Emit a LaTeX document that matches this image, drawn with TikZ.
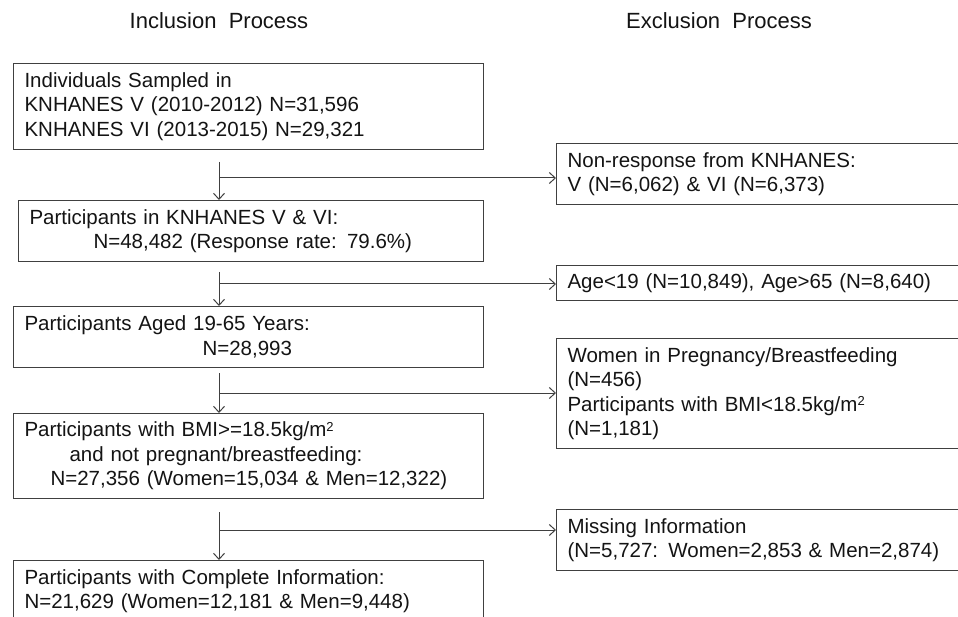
\documentclass[tikz,border=0pt]{standalone}
\usepackage{fontspec}
\setmainfont{Liberation Sans}
\usetikzlibrary{arrows.meta}
\definecolor{linec}{gray}{0.25}
\definecolor{textc}{gray}{0.08}
\newcommand{\boxfnt}{\fontsize{20.5}{24.5}\selectfont}
\newcommand{\titlefnt}{\fontsize{22}{26}\selectfont}
\newcommand{\sqtwo}{\raisebox{5.5pt}{\fontsize{13}{13}\selectfont 2}}
\tikzset{
  box/.style={draw=linec, line width=1.1pt, rectangle, anchor=north west, align=left,
    inner xsep=11pt, inner ysep=4pt, font=\boxfnt, text=textc},
  arr/.style={draw=linec, line width=1pt, -{Straight Barb[length=6pt,width=11pt]}},
  ln/.style={draw=linec, line width=1pt},
  ttl/.style={font=\titlefnt, text=textc, anchor=base}
}
\begin{document}
\begin{tikzpicture}[x=1pt,y=-1pt]
\clip (0,0) rectangle (958,617);
\fill[white] (0,0) rectangle (958,617);

% titles
\node[ttl] (t1) at (219,29) {Inclusion\ \ Process};
\node[ttl] (t2) at (719,29) {Exclusion\ \ Process};

% inclusion boxes
\node[box, text width=448pt, minimum width=470pt, minimum height=86pt] (b1) at (13,63)
  {Individuals Sampled in\\KNHANES V (2010-2012) N=31,596\\KNHANES VI (2013-2015) N=29,321};
\node[box, text width=443pt, minimum width=465pt, minimum height=61pt] (b2) at (18,200)
  {Participants in KNHANES V \& VI:\\\hspace*{64pt}N=48,482 (Response rate: 79.6\%)};
\node[box, text width=448pt, minimum width=470pt, minimum height=61pt] (b3) at (13,306)
  {Participants Aged 19-65 Years:\\\hspace*{178pt}N=28,993};
\node[box, text width=448pt, minimum width=470pt, minimum height=85pt] (b4) at (13,413)
  {Participants with BMI>=18.5kg/m\sqtwo\\\hspace*{45pt}and not pregnant/breastfeeding:\\\hspace*{26pt}N=27,356 (Women=15,034 \& Men=12,322)};
\node[box, text width=448pt, minimum width=470pt, minimum height=61pt] (b5) at (13,560)
  {Participants with Complete Information:\\N=21,629 (Women=12,181 \& Men=9,448)};

% exclusion boxes
\node[box, text width=388pt, minimum width=410pt, minimum height=61pt] (e1) at (556,143)
  {Non-response from KNHANES:\\V (N=6,062) \& VI (N=6,373)};
\node[box, text width=388pt, minimum width=410pt, minimum height=35pt] (e2) at (556,265)
  {Age<19 (N=10,849), Age>65 (N=8,640)};
\node[box, text width=388pt, minimum width=410pt, minimum height=110pt] (e3) at (556,338)
  {Women in Pregnancy/Breastfeeding\\(N=456)\\Participants with BMI<18.5kg/m\sqtwo\\(N=1,181)};
\node[box, text width=388pt, minimum width=410pt, minimum height=61pt] (e4) at (556,509)
  {Missing Information\\(N=5,727: Women=2,853 \& Men=2,874)};

% spine start points and junctions
\coordinate (s1) at (219,162);
\coordinate (j1) at (219,178);
\coordinate (s2) at (219,272);
\coordinate (j2) at (219,284);
\coordinate (s3) at (219,373);
\coordinate (j3) at (219,393);
\coordinate (s4) at (219,512);
\coordinate (j4) at (219,530);

\draw[arr] (s1) -- (s1 |- b2.north);
\draw[arr] (j1) -- (j1 -| e1.west);
\draw[arr] (s2) -- (s2 |- b3.north);
\draw[arr] (j2) -- (j2 -| e2.west);
\draw[arr] (s3) -- (s3 |- b4.north);
\draw[arr] (j3) -- (j3 -| e3.west);
\draw[arr] (s4) -- (s4 |- b5.north);
\draw[arr] (j4) -- (j4 -| e4.west);
\end{tikzpicture}
\end{document}
